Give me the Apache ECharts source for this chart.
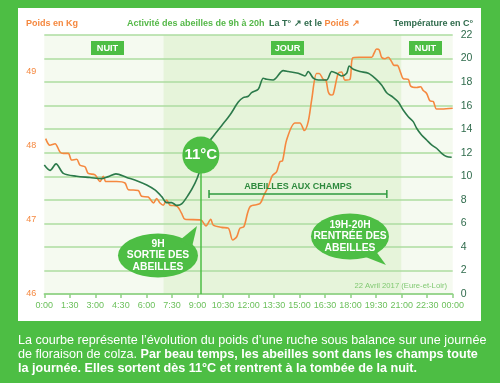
<!DOCTYPE html>
<html><head><meta charset="utf-8">
<script src="https://cdn.jsdelivr.net/npm/echarts@6/dist/echarts.min.js"></script>
<style>html,body{margin:0;padding:0;background:#4dbe44;}#c{width:500px;height:383px;}</style>
</head><body><div id="c"></div>
<script>
// ---- data ----
const tempHours  = [0.0,0.34,0.69,1.12,1.9,2.68,3.37,3.76,4.21,4.84,5.43,6.02,6.5,6.9,7.19,7.48,7.78,8.07,8.46,8.85,9.1,9.54,9.93,10.42,10.91,11.4,11.69,11.99,12.18,12.57,12.87,13.07,13.45,14.04,14.34,14.92,15.32,15.51,15.81,16.1,16.59,16.89,17.18,17.47,17.77,17.92,18.16,18.55,19.04,19.43,19.82,20.12,20.5,20.8,21.09,21.39,21.68,21.88,22.17,22.47,22.76,23.05,23.35,23.64,23.94];
const tempValues = [10.96,10.5,11.05,10.25,10.0,9.9,9.8,9.97,10.2,9.9,9.63,9.26,8.84,8.27,7.76,7.76,7.53,7.65,8.41,9.4,10.3,12.6,13.4,14.3,15.2,16.3,16.68,16.8,17.1,17.39,18.33,18.24,18.18,18.97,18.9,18.75,18.52,18.9,18.33,18.18,18.18,18.9,18.75,18.52,18.75,19.37,19.09,18.9,18.75,18.33,17.76,17.1,16.71,16.31,15.63,15.06,14.64,14.08,13.51,13.08,12.66,12.38,11.95,11.67,11.61];
const weightHours  = [0.08,0.33,0.63,0.92,1.12,1.41,1.61,1.9,2.1,2.39,2.58,2.98,3.27,3.47,3.62,4.25,4.74,4.94,5.52,5.72,6.11,6.42,6.6,6.8,6.99,7.19,7.39,7.78,8.07,8.27,9.2,9.5,9.78,9.93,10.42,10.81,11.07,11.3,11.5,11.73,12.09,12.67,12.9,13.16,13.4,13.65,13.85,14.0,14.24,14.73,15.02,15.28,15.51,15.71,16.0,16.16,16.39,16.55,16.69,16.85,16.98,17.27,17.47,17.67,17.96,18.12,18.5,19.24,19.37,19.53,19.68,19.82,20.02,20.21,20.41,20.55,20.74,20.94,21.09,21.39,21.53,21.88,22.11,22.27,22.47,22.66,22.86,23.05,23.35,24.0];
const weightValues = [48.10,48.01,48.03,47.92,47.90,47.90,47.81,47.82,47.74,47.72,47.63,47.61,47.52,47.59,47.52,47.52,47.50,47.41,47.40,47.32,47.31,47.23,47.29,47.23,47.20,47.27,47.20,47.19,47.09,47.01,47.00,46.92,47.01,46.93,46.90,46.89,46.73,46.77,46.89,46.91,47.18,47.22,47.33,47.45,47.6,47.65,47.79,47.8,48.08,48.31,48.31,48.21,48.33,48.62,48.98,48.98,48.90,48.89,48.73,48.69,48.70,48.98,49.0,48.89,48.90,49.19,49.20,49.20,49.25,49.31,49.30,49.20,49.18,49.20,49.14,49.09,49.09,48.99,48.91,48.90,48.81,48.79,48.80,48.75,48.71,48.61,48.60,48.50,48.50,48.51];
const xTickLabels = ['0:00','1:30','3:00','4:30','6:00','7:30','9:00','10:30','12:00','13:30','15:00','16:30','18:00','19:30','21:00','22:30','00:00'];
const dayStart = 7, dayEnd = 21;
const beeExitHour = 9.2, beeExitMarkTemp = 11.8;
const fieldStartHour = 9.68, fieldEndHour = 20.13, fieldMarkTemp = 8.5;

// ---- styles ----
const FONT = '"Liberation Sans", Helvetica, Arial, sans-serif';
const GREEN = '#4dbe44', ORANGE = '#f5883f', DARK = '#2c7a4b', AXISDARK = '#2f6b4c';
const DAY = '#e6f4da', NIGHT = '#f5faf0', GRID = '#acdca0';

const chart = echarts.init(document.getElementById('c'), null, {renderer:'canvas'});

function txt(x, y, text, opt) {
  return Object.assign({type:'text', x, y, z:10, silent:true,
    style: Object.assign({text, fill:'#fff', font:'bold 9px ' + FONT,
      align:'left', textAlign:'left', verticalAlign:'middle', textVerticalAlign:'middle'}, opt || {})});
}
function box(cx, cy, label) {
  return [
    {type:'rect', z:9, silent:true, shape:{x:cx-16.5, y:cy-7, width:33, height:14}, style:{fill:GREEN}},
    txt(cx, cy+0.5, label, {font:'bold 9.2px ' + FONT, align:'center', textAlign:'center'})
  ];
}
function bubble(cx, cy, rx, ry, tail, text) {
  return [
    {type:'circle', z:9, silent:true, x:cx, y:cy, scaleX:rx/ry, shape:{cx:0, cy:0, r:ry}, style:{fill:GREEN}},
    {type:'polygon', z:9, silent:true, shape:{points:tail}, style:{fill:GREEN}},
    {type:'text', z:10, silent:true, x:cx, y:cy, style:{text, fill:'#fff', font:'bold 10.3px ' + FONT,
      align:'center', textAlign:'center', verticalAlign:'middle', textVerticalAlign:'middle', lineHeight:11.5}}
  ];
}

const graphics = [
  {type:'rect', z:-10, silent:true, shape:{x:18, y:8, width:463, height:313}, style:{fill:'#ffffff'}},
  txt(26, 24, 'Poids en Kg', {fill:ORANGE}),
  txt(127, 24, 'Activité des abeilles de 9h à 20h', {fill:'#55b848'}),
  txt(269, 24, '{d|La T° ↗ et le }{o|Poids ↗}', {rich:{
      d:{fill:AXISDARK, color:AXISDARK, font:'bold 9px ' + FONT},
      o:{fill:ORANGE, color:ORANGE, font:'bold 9px ' + FONT}}}),
  txt(473, 24, 'Température en C°', {fill:AXISDARK, align:'right', textAlign:'right'}),
  ...box(107.5, 48, 'NUIT'),
  ...box(287.5, 48, 'JOUR'),
  ...box(425.5, 48, 'NUIT'),
  ...bubble(158, 255.5, 40, 22, [[180,240],[192,247],[197,226]], '9H\nSORTIE DES\nABEILLES'),
  ...bubble(350, 236.5, 39, 23, [[363,256],[375,250],[386,265]], '19H-20H\nRENTRÉE DES\nABEILLES'),
  txt(447, 286, '22 Avril 2017 (Eure-et-Loir)', {fill:'#7fc870', font:'7.7px ' + FONT, align:'right', textAlign:'right'}),
  txt(18, 341, 'La courbe représente l’évolution du poids d’une ruche sous balance sur une journée', {font:'12.6px ' + FONT}),
  txt(18, 355, 'de floraison de colza. {b|Par beau temps, les abeilles sont dans les champs toute}',
      {font:'12.6px ' + FONT, rich:{b:{fill:'#fff', color:'#fff', font:'bold 12.6px ' + FONT}}}),
  txt(18, 369, 'la journée. Elles sortent dès 11°C et rentrent à la tombée de la nuit.', {font:'bold 12.6px ' + FONT})
];

const option = {
  backgroundColor: GREEN,
  animation: false,
  textStyle: {fontFamily: FONT},
  grid: {left:44.3, right:47.3, top:35, bottom:89, containLabel:false},
  xAxis: {
    type:'value', min:0, max:24, interval:1.5, z:3,
    axisLine:{show:true, lineStyle:{color:'#8fd184', width:1.5}},
    axisTick:{show:true, length:4, lineStyle:{color:'#8fd184', width:1.5}},
    axisLabel:{color:'#6cc05c', fontSize:9, margin:7, fontFamily:FONT,
      formatter:v => xTickLabels[Math.round(v/1.5)]},
    splitLine:{show:false}
  },
  yAxis: [
    {type:'value', min:46, max:49.5, interval:1, position:'left', z:3,
     axisLine:{show:false}, axisTick:{show:false}, splitLine:{show:false},
     axisLabel:{color:ORANGE, fontSize:9, margin:8, fontFamily:FONT,
       formatter:v => Number.isInteger(v) ? String(v) : ''}},
    {type:'value', min:0, max:22, interval:2, position:'right', z:3,
     axisLine:{show:false}, axisTick:{show:false},
     splitLine:{show:true, lineStyle:{color:GRID, width:1.5}},
     axisLabel:{color:AXISDARK, fontSize:10.5, margin:8, fontFamily:FONT}}
  ],
  series: [
    {name:'bands', type:'line', yAxisIndex:1, data:[], silent:true, z:1,
     markArea:{silent:true, z:1, data:[
       [{xAxis:0, itemStyle:{color:NIGHT}}, {xAxis:dayStart}],
       [{xAxis:dayStart, itemStyle:{color:DAY}}, {xAxis:dayEnd}],
       [{xAxis:dayEnd, itemStyle:{color:NIGHT}}, {xAxis:24}]
     ]}},
    {name:'Poids', type:'line', yAxisIndex:0, z:4, showSymbol:false, smooth:0.3,
     data: weightHours.map((h,i) => [h, weightValues[i]]),
     lineStyle:{color:ORANGE, width:1.6}, itemStyle:{color:ORANGE}},
    {name:'Température', type:'line', yAxisIndex:1, z:4, showSymbol:false, smooth:0.3,
     data: tempHours.map((h,i) => [h, tempValues[i]]),
     lineStyle:{color:DARK, width:1.6}, itemStyle:{color:DARK},
     markLine:{silent:true, z:5, symbol:['none','none'], animation:false, data:[
       [{coord:[beeExitHour, 0], symbol:'none', lineStyle:{color:GREEN, width:1.5, type:'solid'}, label:{show:false}},
        {coord:[beeExitHour, beeExitMarkTemp], symbol:'none'}],
       [{coord:[fieldStartHour, fieldMarkTemp], symbol:'rect', symbolSize:[8,1.5],
         lineStyle:{color:'#2e9a3e', width:1.5, type:'solid'},
         label:{show:true, position:'middle', distance:3, formatter:'ABEILLES AUX CHAMPS',
           color:'#2e8a3e', fontSize:9, fontWeight:'bold', fontFamily:FONT}},
        {coord:[fieldEndHour, fieldMarkTemp], symbol:'rect', symbolSize:[8,1.5]}]
     ]},
     markPoint:{silent:true, z:6, animation:false, data:[
       {coord:[beeExitHour, beeExitMarkTemp], symbol:'circle', symbolSize:37, itemStyle:{color:GREEN},
        label:{show:true, position:'inside', formatter:'11°C', color:'#fff', fontSize:15, fontWeight:'bold', fontFamily:FONT}}
     ]}}
  ],
  graphic: graphics
};
chart.setOption(option);
</script></body></html>
